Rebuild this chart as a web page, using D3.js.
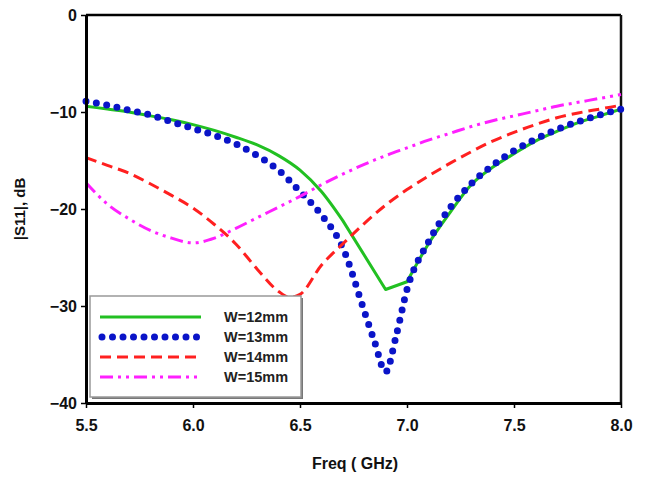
<!DOCTYPE html>
<html><head><meta charset="utf-8">
<script src="https://cdn.jsdelivr.net/npm/d3@7"></script>
<style>body{margin:0;background:#fff;}svg{display:block;}</style>
</head><body>
<svg id="chart" width="649" height="477"></svg>
<script>
const xTicks = [5.5, 6.0, 6.5, 7.0, 7.5, 8.0];
const yTicks = [0, -10, -20, -30, -40];
const seriesNames = ["W=12mm", "W=13mm", "W=14mm", "W=15mm"];
const seriesColors = ["#22c022", "#0a14c8", "#ff2020", "#ff20ff"];

const freqW12 = [5.5,5.6,5.7,5.8,5.9,6.0,6.1,6.2,6.3,6.4,6.5,6.6,6.7,6.9,7.0,7.1,7.2,7.3,7.4,7.5,7.6,7.7,7.8,7.9,8.0];
const s11W12  = [-9.4,-9.7,-10.0,-10.4,-10.8,-11.3,-11.9,-12.6,-13.4,-14.5,-16.0,-18.2,-21.2,-28.3,-27.5,-23.6,-20.4,-17.5,-15.7,-14.3,-13.0,-12.0,-11.1,-10.4,-9.7];

const freqW13 = [5.5,5.6,5.7,5.8,5.9,6.0,6.1,6.2,6.3,6.4,6.5,6.6,6.7,6.8,6.85,6.9,6.95,7.0,7.1,7.2,7.3,7.4,7.5,7.6,7.7,7.8,7.9,8.0];
const s11W13  = [-8.9,-9.3,-9.8,-10.3,-11.0,-11.7,-12.4,-13.3,-14.5,-16.0,-18.2,-20.6,-24.0,-30.5,-33.8,-36.8,-33.0,-28.3,-23.4,-19.9,-17.4,-15.5,-14.0,-12.8,-11.8,-11.0,-10.3,-9.7];

const freqW14 = [5.5,5.6,5.7,5.8,5.9,6.0,6.1,6.2,6.3,6.4,6.45,6.5,6.6,6.7,6.8,6.9,7.0,7.1,7.2,7.3,7.4,7.5,7.6,7.7,7.8,7.9,8.0];
const s11W14  = [-14.7,-15.5,-16.3,-17.4,-18.6,-19.9,-21.6,-23.6,-26.2,-28.5,-29.1,-28.8,-25.8,-23.6,-21.5,-19.6,-18.0,-16.6,-15.3,-14.1,-13.0,-12.1,-11.3,-10.6,-10.1,-9.7,-9.3];

const freqW15 = [5.5,5.6,5.7,5.8,5.9,6.0,6.1,6.2,6.3,6.4,6.5,6.6,6.7,6.8,6.9,7.0,7.1,7.2,7.3,7.4,7.5,7.6,7.7,7.8,7.9,8.0];
const s11W15  = [-17.3,-19.5,-21.0,-22.2,-23.0,-23.5,-23.0,-22.0,-20.9,-19.8,-18.7,-17.5,-16.4,-15.4,-14.5,-13.7,-12.9,-12.2,-11.5,-10.9,-10.4,-9.9,-9.4,-9.0,-8.6,-8.2];

const svg = d3.select("#chart");
const L = 86, R = 621, T = 15, B = 403;
const x = d3.scaleLinear().domain([5.5, 8.0]).range([L, R]);
const y = d3.scaleLinear().domain([-40, 0]).range([B, T]);
const font = "'Liberation Sans', Arial, sans-serif";

// frame top/right
svg.append("line").attr("x1", L).attr("x2", R).attr("y1", T).attr("y2", T).attr("stroke", "#000").attr("stroke-width", 2.5);
svg.append("line").attr("x1", R).attr("x2", R).attr("y1", T).attr("y2", B).attr("stroke", "#111").attr("stroke-width", 2.5);

const series = [
  {f: freqW12, v: s11W12, curve: d3.curveMonotoneX, dash: null, w: 3, cap: "butt", kinks: [6.7, 7.0]},
  {f: freqW13, v: s11W13, curve: d3.curveMonotoneX, dash: "0,10.5", w: 7, cap: "round"},
  {f: freqW14, v: s11W14, curve: d3.curveMonotoneX, dash: "11,6", w: 3, cap: "butt"},
  {f: freqW15, v: s11W15, curve: d3.curveMonotoneX, dash: "13,5,3,5,3,5", w: 3, cap: "butt"}
];

const clip = svg.append("defs").append("clipPath").attr("id", "plot");
clip.append("rect").attr("x", L - 4).attr("y", T - 4).attr("width", R - L + 8).attr("height", B - T + 8);
const g = svg.append("g").attr("clip-path", "url(#plot)");

series.forEach((s, i) => {
  const pts = s.f.map((f, k) => [f, s.v[k]]);
  let d;
  if (s.kinks) {
    // smooth pieces joined by straight segments between the kink frequencies
    const a = s.kinks[0], b = s.kinks[1];
    const smooth = d3.line().x(p => x(p[0])).y(p => y(p[1])).curve(s.curve);
    const straight = d3.line().x(p => x(p[0])).y(p => y(p[1])).curve(d3.curveLinear);
    const p1 = pts.filter(p => p[0] <= a + 1e-9);
    const p2 = pts.filter(p => p[0] >= a - 1e-9 && p[0] <= b + 1e-9);
    const p3 = pts.filter(p => p[0] >= b - 1e-9);
    d = smooth(p1) + straight(p2).replace(/^M/, "L") + smooth(p3).replace(/^M/, "L");
  } else {
    d = d3.line().x(p => x(p[0])).y(p => y(p[1])).curve(s.curve)(pts);
  }
  g.append("path").attr("d", d).attr("fill", "none")
    .attr("stroke", seriesColors[i]).attr("stroke-width", s.w)
    .attr("stroke-linecap", s.cap).attr("stroke-linejoin", "round")
    .attr("stroke-dasharray", s.dash);
});

// axes
const xAxis = svg.append("g").attr("transform", `translate(0,${B})`)
  .call(d3.axisBottom(x).tickValues(xTicks).tickFormat(d3.format(".1f")).tickSize(5).tickSizeOuter(0));
const yAxis = svg.append("g").attr("transform", `translate(${L},0)`)
  .call(d3.axisLeft(y).tickValues(yTicks).tickFormat(d3.format("d")).tickSize(5).tickSizeOuter(0));
[xAxis, yAxis].forEach(a => {
  a.select(".domain").attr("stroke", "#000").attr("stroke-width", 3);
  a.selectAll(".tick line").attr("stroke", "#000").attr("stroke-width", 1.5);
  a.selectAll("text").attr("font-family", font).attr("font-weight", "bold").attr("font-size", 16).attr("fill", "#111");
});
xAxis.selectAll("text").attr("dy", "1.25em");
yAxis.selectAll("text").attr("x", -9);

// titles
svg.append("text").attr("x", 355).attr("y", 469).attr("text-anchor", "middle")
  .attr("font-family", font).attr("font-weight", "bold").attr("font-size", 16).attr("fill", "#111").text("Freq ( GHz)");
svg.append("text").attr("transform", "translate(25,209) rotate(-90)").attr("text-anchor", "middle")
  .attr("font-family", font).attr("font-weight", "bold").attr("font-size", 15).attr("fill", "#111").text("|S11|, dB");

// legend
const lg = svg.append("g");
lg.append("rect").attr("x", 92).attr("y", 298).attr("width", 211).attr("height", 101).attr("fill", "#777");
lg.append("rect").attr("x", 90).attr("y", 296).attr("width", 211).attr("height", 101).attr("fill", "#fff").attr("stroke", "#999").attr("stroke-width", 1.5);
const rowsY = [317, 337, 357, 377];
seriesNames.forEach((name, i) => {
  const s = series[i];
  lg.append("line").attr("x1", i === 1 ? 102 : 100).attr("x2", 201).attr("y1", rowsY[i]).attr("y2", rowsY[i])
    .attr("stroke", seriesColors[i]).attr("stroke-width", s.w).attr("stroke-linecap", s.cap)
    .attr("stroke-dasharray", s.dash);
  lg.append("text").attr("x", 224).attr("y", rowsY[i]).attr("dy", "0.35em")
    .attr("font-family", font).attr("font-weight", "bold").attr("font-size", 14.5).attr("fill", "#222").text(name);
});
</script>
</body></html>
